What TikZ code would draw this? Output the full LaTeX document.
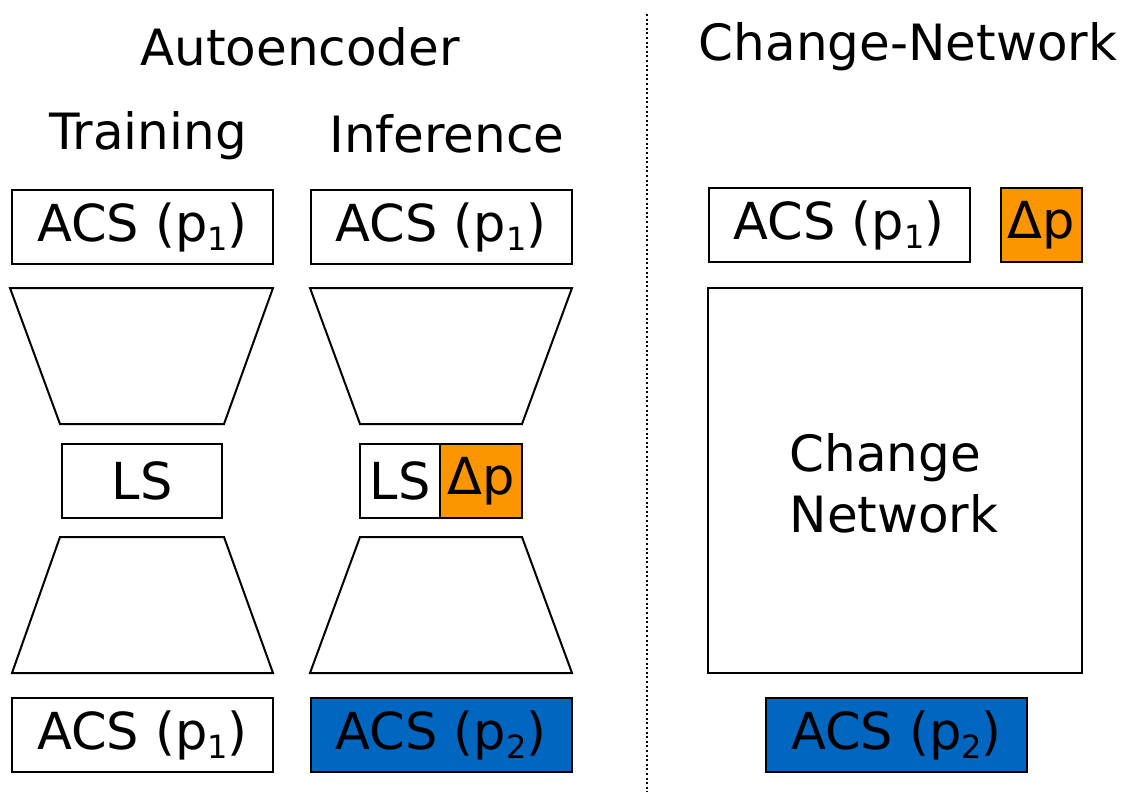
\documentclass[tikz,border=0pt]{standalone}
\usepackage{fontspec}
\setmainfont{DejaVu Sans}
\definecolor{deltaorange}{HTML}{FB9600}
\definecolor{outblue}{HTML}{0066C0}
\newcommand{\lowidx}[1]{\raisebox{-9pt}{\fontsize{32}{32}\selectfont #1}}
\tikzset{
  box/.style={draw=black, line width=2pt, fill=white, inner sep=0pt,
    font=\fontsize{51}{54}\selectfont},
  title/.style={font=\fontsize{50}{54}\selectfont, inner sep=0pt},
  coder/.style={draw=black, line width=2pt, line join=miter},
  acs/.style={box, minimum width=261pt, minimum height=74pt},
  delta/.style={box, fill=deltaorange},
  target/.style={acs, fill=outblue},
}
\begin{document}
\begin{tikzpicture}[x=1pt, y=-1pt]
\useasboundingbox (0,0) rectangle (1123,792);

% headings
\node[title] (ae)  at (300,47)  {Autoencoder};
\node[title] (cnt) at (908,47)  {Change-Network};
\node[title] (tr)  at (148,136) {Training};
\node[title] (inf) at (447,134) {Inference};

% separator between the two halves
\draw[line width=2pt, dash pattern=on 2pt off 2.6pt] (647,14) -- (647,792);

% ---- autoencoder, training ----
\node[acs] (trin) at (142.5,227) {ACS (p\lowidx{1})};
\draw[coder] (10,288) -- (273,288) -- (224,424) -- (60,424) -- cycle;
\node[box, minimum width=160pt, minimum height=74pt] (trls) at (142,481) {LS};
\draw[coder] (60,537) -- (224,537) -- (273,673) -- (12,673) -- cycle;
\node[acs] (trout) at (142.5,735) {ACS (p\lowidx{1})};

% ---- autoencoder, inference ----
\node[acs] (infin) at (441,227) {ACS (p\lowidx{1})};
\draw[coder] (310,288) -- (572,288) -- (522,424) -- (360,424) -- cycle;
\node[box, minimum width=80pt, minimum height=74pt] (infls) at (400,481) {LS};
\node[delta, minimum width=82pt, minimum height=74pt] (infdp) at (481,481) {Δp};
\draw[coder] (360,537) -- (522,537) -- (572,673) -- (310,673) -- cycle;
\node[target] (infout) at (441,735) {ACS (p\lowidx{2})};

% ---- change network ----
\node[acs] (cnin) at (839,225) {ACS (p\lowidx{1})};
\node[delta, minimum width=81pt, minimum height=74pt] (cndp) at (1041.5,225) {Δp};
\node[box, minimum width=374pt, minimum height=385pt] (cnet) at (895,480.5) {};
\node[title, align=left] (cnlabel) at (894,483) {Change\\[7pt]Network};
\node[target] (cnout) at (896.5,735) {ACS (p\lowidx{2})};
\end{tikzpicture}
\end{document}
